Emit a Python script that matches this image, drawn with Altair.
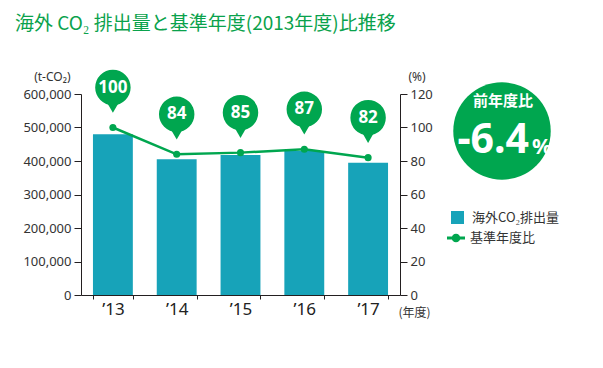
import altair as alt
import pandas as pd

years = ["’13", "’14", "’15", "’16", "’17"]
co2 = [480000, 405000, 418000, 430000, 395000]
ratio = [100, 84, 85, 87, 82]
co2_ticks = [0, 100000, 200000, 300000, 400000, 500000, 600000]
pct_ticks = [0, 20, 40, 60, 80, 100, 120]
bar_series = "海外CO₂排出量"
line_series = "基準年度比"
badge_title = "前年度比"
badge_value = "-6.4"
badge_unit = "%"
title_text = "海外 CO₂ 排出量と基準年度(2013年度)比推移"

TEAL = "#17a3b9"
GREEN = "#00a64f"
TXT = "#333333"
JP = "Noto Sans CJK JP"

df = pd.DataFrame({"year": years, "co2": co2, "ratio": ratio,
                   "s1": bar_series, "s2": line_series})

xenc = alt.X("year:N", sort=years,
             scale=alt.Scale(paddingInner=0.375, paddingOuter=0.1875),
             axis=alt.Axis(title="(年度)", titleAngle=0, titleX=317, titleY=17,
                           titleAlign="left", titleBaseline="middle",
                           titleFontSize=12, titleFontWeight="normal", titleColor=TXT,
                           titleFont=JP,
                           labelFontSize=17, labelColor="#222", labelPadding=2,
                           labelFont="Noto Sans",
                           tickBand="extent", tickSize=4, tickColor="#231f20",
                           domainColor="#231f20", labelAngle=0))

yl = alt.Y("co2:Q", scale=alt.Scale(domain=[0, 600000], nice=False),
           axis=alt.Axis(values=co2_ticks, format=",.0f", title="(t-CO₂)", titleAngle=0,
                         titleX=-11, titleY=-18, titleAlign="right", titleBaseline="middle",
                         titleFontSize=12, titleFontWeight="normal", titleColor=TXT,
                         titleFont="Noto Sans",
                         labelFontSize=13, labelColor=TXT, labelFont="Noto Sans",
                         tickSize=7, labelPadding=3, grid=False,
                         tickColor="#231f20", domainColor="#231f20"))

yr_axis = alt.Axis(orient="right", values=pct_ticks, format="d", title="(%)", titleAngle=0,
                   titleX=8, titleY=-18, titleAlign="left", titleBaseline="middle",
                   titleFontSize=12, titleFontWeight="normal", titleColor=TXT,
                   titleFont="Noto Sans",
                   labelFontSize=13, labelColor=TXT, labelFont="Noto Sans",
                   tickSize=7, labelPadding=3, grid=False,
                   tickColor="#231f20", domainColor="#231f20")
yscale = alt.Scale(domain=[0, 120], nice=False)
yr = alt.Y("ratio:Q", scale=yscale, axis=yr_axis)

bars = alt.Chart(df).mark_bar().encode(
    x=xenc, y=yl,
    color=alt.Color("s1:N", scale=alt.Scale(domain=[bar_series], range=[TEAL]),
                    legend=alt.Legend(orient="none", legendX=369, legendY=116, title=None,
                                      symbolType="square", symbolSize=169,
                                      labelFontSize=13, labelColor=TXT, labelFont=JP,
                                      labelOffset=7, symbolOpacity=1)),
)

line_sym = ("M-1,-0.16 L1,-0.16 L1,0.16 L-1,0.16 Z "
            "M0.48,0 A0.48,0.48 0 1 1 -0.48,0 A0.48,0.48 0 1 1 0.48,0 Z")

line = alt.Chart(df).mark_line(strokeWidth=2.5).encode(
    x=xenc, y=yr,
    stroke=alt.Stroke("s2:N", scale=alt.Scale(domain=[line_series], range=[GREEN]),
                      legend=alt.Legend(orient="none", legendX=366, legendY=135, title=None,
                                        symbolType=line_sym, symbolSize=324,
                                        symbolFillColor=GREEN, symbolStrokeWidth=0,
                                        labelFontSize=13, labelColor=TXT, labelFont=JP,
                                        labelOffset=5)),
)

dots = alt.Chart(df).mark_circle(size=50, color=GREEN, opacity=1).encode(x=xenc, y=yr)
bubble = alt.Chart(df).mark_point(shape="circle", size=1257, filled=True, color=GREEN,
                                  opacity=1, yOffset=-40).encode(x=xenc, y=yr)
pointer = alt.Chart(df).mark_point(shape="triangle-down", size=150, filled=True, color=GREEN,
                                   opacity=1, yOffset=-20).encode(x=xenc, y=yr)
btext = alt.Chart(df).mark_text(color="white", fontSize=17, fontWeight="bold",
                                font="Noto Sans", yOffset=-40, baseline="middle").encode(
    x=xenc, y=yr, text="ratio:Q")

badge_df = pd.DataFrame({"t": [badge_title], "v": [badge_value], "u": [badge_unit]})
badge = alt.Chart(badge_df).mark_circle(size=9500, color=GREEN, opacity=1).encode(
    x=alt.value(421), y=alt.value(37))
badge_t = alt.Chart(badge_df).mark_text(color="white", fontSize=15, fontWeight="bold",
                                        font=JP, baseline="middle").encode(
    x=alt.value(422), y=alt.value(7), text="t:N")
badge_v = alt.Chart(badge_df).mark_text(color="white", fontSize=41, fontWeight="bold",
                                        font="Noto Sans", baseline="middle",
                                        align="right").encode(
    x=alt.value(448), y=alt.value(47), text="v:N")
badge_u = alt.Chart(badge_df).mark_text(color="white", fontSize=22, fontWeight="bold",
                                        font="Noto Sans", baseline="middle",
                                        align="left").encode(
    x=alt.value(451), y=alt.value(53), text="u:N")

right = alt.layer(line, dots, pointer, bubble, btext)

chart = alt.layer(bars, right, badge, badge_t, badge_v, badge_u).resolve_scale(
    y="independent", color="independent", stroke="independent"
).properties(
    width=319, height=201,
    padding={"left": 73, "top": 86, "right": 190, "bottom": 60},
    autosize=alt.AutoSizeParams(type="none"),
    title=alt.TitleParams(title_text, anchor="start", frame="group", dx=-66,
                          fontSize=19, font=JP, fontWeight="normal", color="#0aa24c",
                          offset=36),
).configure_view(stroke=None)

chart.save("out.html", embed_options={"renderer": "svg", "actions": False})
